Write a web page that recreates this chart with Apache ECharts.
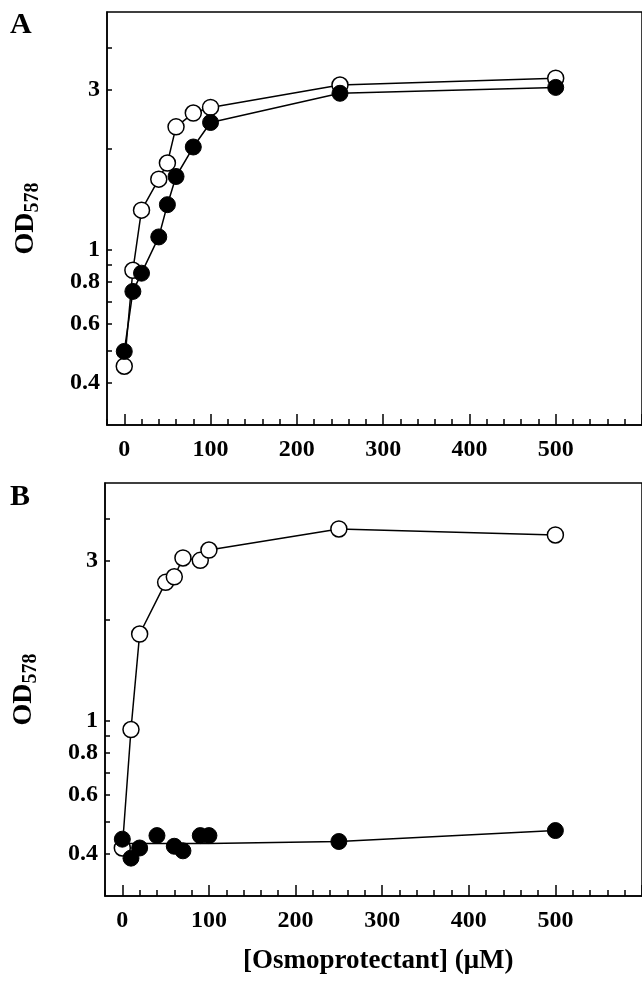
<!DOCTYPE html>
<html><head><meta charset="utf-8">
<script src="https://cdn.jsdelivr.net/npm/echarts@6/dist/echarts.min.js"></script>
<style>html,body{margin:0;padding:0;background:#fff}#c{width:642px;height:991px}</style>
</head><body><div id="c"></div>
<script>
const openA_x = [0,10,20,40,50,60,80,100,250,500];
const openA_y = [0.449,0.867,1.31,1.62,1.81,2.32,2.55,2.65,3.09,3.24];
const fillA_x = [0,10,20,40,50,60,80,100,250,500];
const fillA_y = [0.497,0.75,0.85,1.09,1.36,1.65,2.02,2.39,2.92,3.04];
const openB_x = [0,10,20,50,60,70,90,100,250,500];
const openB_y = [0.417,0.94,1.81,2.58,2.68,3.05,3.0,3.22,3.72,3.57];
const fillB_x = [0,10,20,40,60,70,90,100,250,500];
const fillB_y = [0.443,0.389,0.417,0.454,0.422,0.409,0.454,0.454,0.436,0.47];
const fitB_x = [0,100,250,500];
const fitB_y = [0.43,0.43,0.436,0.47];
const yLabelVals = [0.4,0.6,0.8,1,3];
const yTickVals = [0.4,0.5,0.6,0.7,0.8,0.9,1,2,3,4];
const xLabelVals = [0,100,200,300,400,500];
const xMinorVals = []; for (let v=-20; v<=600; v+=20) xMinorVals.push(v);
const xMajorVals = [0,100,200,300,400,500,600];

const zip=(a,b)=>a.map((v,i)=>[v,b[i]]);
const F='"Liberation Serif","DejaVu Serif",serif';
const grids=[{left:107,top:12,height:413,right:-3,show:true,borderColor:'#000',borderWidth:1.5},
             {left:105,top:483,height:413,right:-5,show:true,borderColor:'#000',borderWidth:1.5}];
const xAxes=[], yAxes=[];
[0,1].forEach(g=>{
  xAxes.push({gridIndex:g,type:'value',min:-20,max:600,splitLine:{show:false},
    axisLine:{onZero:false,lineStyle:{color:'#000',width:1.5}},
    axisTick:{inside:true,length:6,customValues:xMinorVals,lineStyle:{color:'#000',width:1.5}},
    axisLabel:{customValues:xLabelVals,margin:13,color:'#000',fontFamily:F,fontWeight:'bold',fontSize:24}});
  xAxes.push({gridIndex:g,type:'value',min:-20,max:600,position:'bottom',splitLine:{show:false},
    axisLine:{show:false,onZero:false},axisLabel:{show:false},
    axisTick:{inside:true,length:11,customValues:xMajorVals,lineStyle:{color:'#000',width:1.5}}});
  yAxes.push({gridIndex:g,type:'log',logBase:10,min:0.3,max:5.1,splitLine:{show:false},
    axisLine:{onZero:false,lineStyle:{color:'#000',width:1.5}},
    axisTick:{inside:true,length:5,customValues:yTickVals,lineStyle:{color:'#000',width:1.5}},
    axisLabel:{customValues:yLabelVals,margin:7,color:'#000',fontFamily:F,fontWeight:'bold',fontSize:24,
      formatter:v=>String(+(+v).toFixed(1))},
    name:'{a|OD}{b|578}',nameLocation:'middle',nameGap:64,nameRotate:90,
    nameTextStyle:{rich:{a:{fontFamily:F,fontWeight:'bold',fontSize:28,color:'#000'},
      b:{fontFamily:F,fontWeight:'bold',fontSize:20,color:'#000',verticalAlign:'bottom',padding:[14,0,0,0]}}}});
});
const open=(g,d)=>({type:'line',xAxisIndex:g*2,yAxisIndex:g,data:d,symbol:'circle',symbolSize:16,
  lineStyle:{color:'#000',width:1.5},itemStyle:{color:'#fff',borderColor:'#000',borderWidth:1.5},z:3});
const fill=(g,d,line)=>({type:'line',xAxisIndex:g*2,yAxisIndex:g,data:d,symbol:'circle',symbolSize:16,
  lineStyle:{color:'#000',width:1.5,opacity:line?1:0},itemStyle:{color:'#000',borderColor:'#000'},z:4});
const chart=echarts.init(document.getElementById('c'),null,{renderer:'canvas'});
chart.setOption({animation:false,grid:grids,xAxis:xAxes,yAxis:yAxes,
  graphic:[
    {type:'text',left:10,top:10,style:{text:'A',font:'bold 30px '+F,fill:'#000'}},
    {type:'text',left:10,top:482,style:{text:'B',font:'bold 30px '+F,fill:'#000'}},
    {type:'text',left:243,top:948,style:{text:'[Osmoprotectant] (\u03bcM)',font:'bold 27px '+F,fill:'#000'}}
  ],
  series:[open(0,zip(openA_x,openA_y)),fill(0,zip(fillA_x,fillA_y),true),
    open(1,zip(openB_x,openB_y)),
    {type:'line',xAxisIndex:2,yAxisIndex:1,data:zip(fitB_x,fitB_y),symbol:'none',lineStyle:{color:'#000',width:1.5},z:2},
    fill(1,zip(fillB_x,fillB_y),false)]
});
</script></body></html>
